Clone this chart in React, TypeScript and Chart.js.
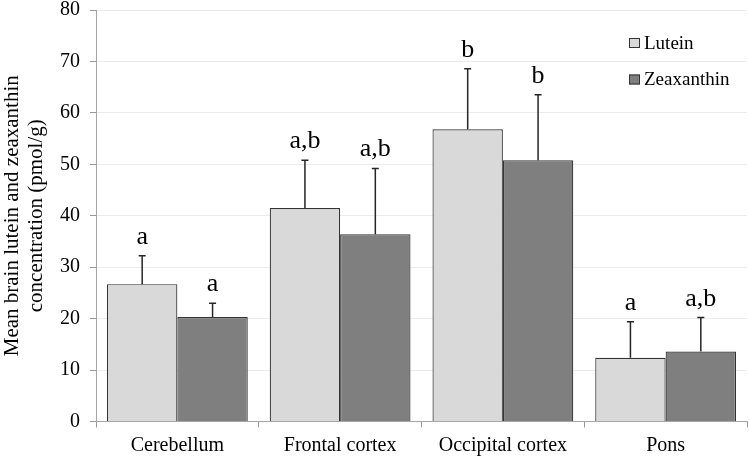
import React, { useEffect, useRef } from "react";
import Chart from "chart.js/auto";

const categories = ["Cerebellum", "Frontal cortex", "Occipital cortex", "Pons"];
const luteinValues = [26.7, 41.5, 56.8, 12.4];
const luteinErrors = [5.5, 9.3, 11.8, 7.0];
const zeaxValues = [20.3, 36.4, 50.8, 13.6];
const zeaxErrors = [2.7, 12.8, 12.7, 6.6];
const luteinSig = ["a", "a,b", "b", "a"];
const zeaxSig = ["a", "a,b", "b", "a,b"];
const yTicks = [0, 10, 20, 30, 40, 50, 60, 70, 80];

const FONT = "'Liberation Serif', 'Times New Roman', serif";

const errorBarPlugin = {
  id: "errorBars",
  afterDatasetsDraw(chart: any) {
    const ctx = chart.ctx;
    const yScale = chart.scales.y;
    chart.data.datasets.forEach((ds: any, di: number) => {
      const meta = chart.getDatasetMeta(di);
      meta.data.forEach((bar: any, i: number) => {
        const v = ds.data[i];
        const e = ds.errors[i];
        const x = bar.x;
        const yTop = yScale.getPixelForValue(v);
        const yErr = yScale.getPixelForValue(v + e);
        ctx.save();
        ctx.strokeStyle = "#262626";
        ctx.lineWidth = 1.5;
        ctx.beginPath();
        ctx.moveTo(x, yTop);
        ctx.lineTo(x, yErr);
        ctx.moveTo(x - 3.5, yErr);
        ctx.lineTo(x + 3.5, yErr);
        ctx.stroke();
        ctx.fillStyle = "#000";
        ctx.font = `26px ${FONT}`;
        ctx.textAlign = "center";
        ctx.textBaseline = "alphabetic";
        ctx.fillText(ds.sig[i], x, yErr - 12);
        ctx.restore();
      });
    });
  },
};

const legendPlugin = {
  id: "customLegend",
  afterDraw(chart: any) {
    const ctx = chart.ctx;
    const area = chart.chartArea;
    const x0 = area.right - 118;
    const ys = [area.top + 33, area.top + 69.5];
    chart.data.datasets.forEach((ds: any, di: number) => {
      const y = ys[di];
      ctx.save();
      ctx.fillStyle = ds.backgroundColor;
      ctx.strokeStyle = "#333";
      ctx.lineWidth = 1;
      ctx.fillRect(x0, y - 5, 11, 10);
      ctx.strokeRect(x0 + 0.5, y - 4.5, 10, 9);
      ctx.fillStyle = "#000";
      ctx.font = `19px ${FONT}`;
      ctx.textAlign = "left";
      ctx.textBaseline = "middle";
      ctx.fillText(ds.label, x0 + 15, y + 1);
      ctx.restore();
    });
  },
};

export default function App() {
  const ref = useRef<HTMLCanvasElement>(null);
  useEffect(() => {
    document.body.style.margin = "0";
    const chart = new Chart(ref.current!, {
      type: "bar",
      data: {
        labels: categories,
        datasets: [
          {
            label: "Lutein",
            data: luteinValues,
            errors: luteinErrors,
            sig: luteinSig,
            backgroundColor: "#d9d9d9",
            borderColor: "#333333",
            borderWidth: 1.2,
          } as any,
          {
            label: "Zeaxanthin",
            data: zeaxValues,
            errors: zeaxErrors,
            sig: zeaxSig,
            backgroundColor: "#7f7f7f",
            borderColor: "#333333",
            borderWidth: 1.2,
          } as any,
        ],
      },
      options: {
        animation: false,
        responsive: false,
        layout: { padding: { left: 0, right: 3, top: 0, bottom: 0 } },
        datasets: { bar: { categoryPercentage: 0.865, barPercentage: 1 } },
        plugins: { legend: { display: false }, tooltip: { enabled: false } },
        scales: {
          x: {
            afterFit: (axis: any) => {
              axis.height = 37.5;
            },
            grid: { drawOnChartArea: false, tickLength: 6, tickColor: "#999", offset: true },
            border: { color: "#a6a6a6", width: 1 },
            ticks: { color: "#000", font: { family: FONT, size: 20 }, padding: 6 },
          },
          y: {
            min: 0,
            max: 80,
            afterBuildTicks: (axis: any) => {
              axis.ticks = yTicks.map((v) => ({ value: v }));
            },
            afterFit: (axis: any) => {
              axis.width = 96;
              axis.paddingTop = 10;
              axis.paddingBottom = 0;
            },
            grid: { color: "#ececec", tickLength: 6, tickColor: "#999" },
            border: { color: "#a6a6a6", width: 1 },
            ticks: { color: "#000", font: { family: FONT, size: 20 }, padding: 10 },
            title: {
              display: true,
              text: ["Mean brain lutein and zeaxanthin", "concentration (pmol/g)"],
              color: "#000",
              font: { family: FONT, size: 21, lineHeight: 1.15 },
              padding: { top: 0, bottom: 4 },
            },
          },
        },
      } as any,
      plugins: [errorBarPlugin, legendPlugin],
    });
    return () => chart.destroy();
  }, []);
  return (
    <div style={{ position: "absolute", left: 0, top: 0, width: 750, height: 459 }}>
      <canvas ref={ref} width={750} height={459} style={{ width: 750, height: 459 }} />
    </div>
  );
}
